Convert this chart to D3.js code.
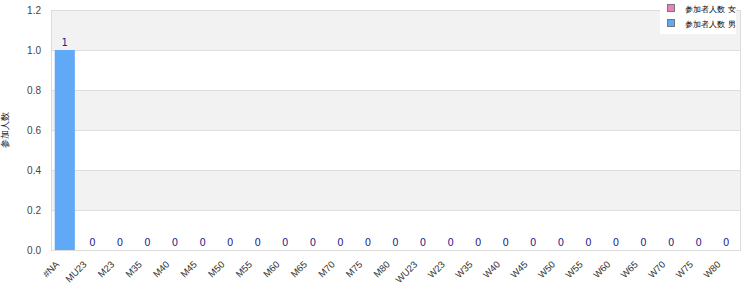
<!DOCTYPE html>
<html>
<head>
<meta charset="utf-8">
<script src="https://cdn.jsdelivr.net/npm/d3@7"></script>
<style>
  body { margin: 0; background: #fff; }
  svg { font-family: "DejaVu Sans", sans-serif; }
</style>
</head>
<body>
<svg id="chart" width="750" height="300"></svg>
<script>
// categories and series
var categories = ['#NA', 'MU23', 'M23', 'M35', 'M40', 'M45', 'M50', 'M55', 'M60', 'M65', 'M70', 'M75', 'M80',
  'WU23', 'W23', 'W35', 'W40', 'W45', 'W50', 'W55', 'W60', 'W65', 'W70', 'W75', 'W80'];
var femaleCounts = [0, 0, 0, 0, 0, 0, 0, 0, 0, 0, 0, 0, 0, 0, 0, 0, 0, 0, 0, 0, 0, 0, 0, 0, 0];
var maleCounts = [1, 0, 0, 0, 0, 0, 0, 0, 0, 0, 0, 0, 0, 0, 0, 0, 0, 0, 0, 0, 0, 0, 0, 0, 0];
var seriesNames = ['参加者人数 女', '参加者人数 男'];
var seriesColors = ['#ec80b9', '#60a9f6'];
var yTicks = [0, 0.2, 0.4, 0.6, 0.8, 1.0, 1.2];
var yTitle = '参加人数';

var svg = d3.select('#chart');
var margin = {left: 51, right: 10, top: 10, bottom: 50};
var width = 750 - margin.left - margin.right;
var height = 300 - margin.top - margin.bottom;

var g = svg.append('g').attr('transform', 'translate(' + margin.left + ',' + margin.top + ')');

var x = d3.scaleBand().domain(categories).range([0, width]).paddingInner(0.27).paddingOuter(0.135);
var y = d3.scaleLinear().domain([0, 1.2]).range([height, 0]);

// alternating bands
for (var i = 0; i < yTicks.length - 1; i++) {
  g.append('rect')
      .attr('x', 0)
      .attr('y', y(yTicks[i + 1]))
      .attr('width', width)
      .attr('height', y(yTicks[i]) - y(yTicks[i + 1]))
      .attr('fill', i % 2 === 1 ? '#f2f2f2' : '#ffffff');
}

// grid lines
g.selectAll('line.grid')
    .data(yTicks)
    .enter().append('line')
    .attr('class', 'grid')
    .attr('x1', 0)
    .attr('x2', width)
    .attr('y1', function(d) { return Math.round(y(d)) + 0.5; })
    .attr('y2', function(d) { return Math.round(y(d)) + 0.5; })
    .attr('stroke', '#dedede');

// border
g.append('rect')
    .attr('x', 0.5)
    .attr('y', 0.5)
    .attr('width', width)
    .attr('height', height)
    .attr('fill', 'none')
    .attr('stroke', '#dcdcdc');

// stacked bars
var rows = categories.map(function(c, i) {
  return {cat: c, f: femaleCounts[i], m: maleCounts[i]};
});
var stack = d3.stack().keys(['f', 'm'])(rows);

stack.forEach(function(layer, li) {
  g.selectAll('rect.s' + li)
      .data(layer)
      .enter().append('rect')
      .attr('class', 's' + li)
      .attr('x', function(d) { return x(d.data.cat); })
      .attr('width', x.bandwidth())
      .attr('y', function(d) { return y(d[1]); })
      .attr('height', function(d) { return y(d[0]) - y(d[1]); })
      .attr('fill', seriesColors[li]);
});

// value labels
g.selectAll('text.val')
    .data(rows)
    .enter().append('text')
    .attr('class', 'val')
    .attr('x', function(d) { return x(d.cat) + x.bandwidth() / 2; })
    .attr('y', function(d) { return y(d.f + d.m) - 4.5; })
    .attr('text-anchor', 'middle')
    .attr('font-size', 10)
    .attr('fill', '#1f1f8f')
    .text(function(d) { return d.f + d.m; });

// y axis
var yAxis = g.append('g')
    .call(d3.axisLeft(y).tickValues(yTicks).tickFormat(d3.format('.1f')).tickSize(0).tickPadding(10));
yAxis.select('.domain').remove();
yAxis.selectAll('text').attr('font-size', 10).attr('fill', '#444');

// x axis
var xAxis = g.append('g')
    .attr('transform', 'translate(0,' + height + ')')
    .call(d3.axisBottom(x).tickSize(0));
xAxis.select('.domain').remove();
xAxis.selectAll('text')
    .attr('font-size', 9.5)
    .attr('fill', '#333')
    .attr('text-anchor', 'end')
    .attr('x', 0)
    .attr('y', 0)
    .attr('dy', 0)
    .attr('transform', 'translate(-5,15) rotate(-45)');

// y title
svg.append('text')
    .attr('transform', 'translate(8,' + (margin.top + height / 2) + ') rotate(-90)')
    .attr('text-anchor', 'middle')
    .attr('font-size', 9)
    .attr('fill', '#222')
    .text(yTitle);

// legend
var legend = svg.append('g').attr('transform', 'translate(660,0)');
legend.append('rect')
    .attr('width', 76)
    .attr('height', 34)
    .attr('fill', '#fff');
seriesNames.forEach(function(name, i) {
  legend.append('rect')
      .attr('x', 7.5)
      .attr('y', 4.5 + i * 15)
      .attr('width', 7)
      .attr('height', 7)
      .attr('fill', seriesColors[i])
      .attr('stroke', '#777');
  legend.append('text')
      .attr('x', 25)
      .attr('y', 11.5 + i * 15)
      .attr('font-size', 8)
      .attr('fill', '#000')
      .text(name);
});
</script>
</body>
</html>
